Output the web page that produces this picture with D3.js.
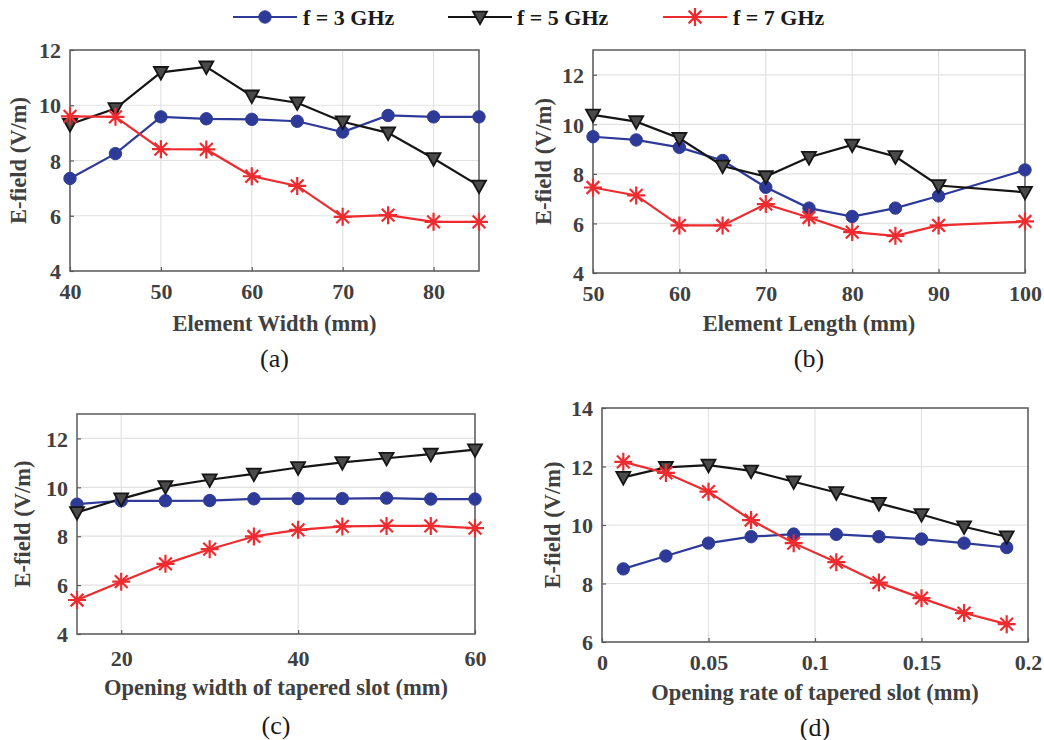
<!DOCTYPE html>
<html><head><meta charset="utf-8">
<script src="https://cdn.jsdelivr.net/npm/d3@7"></script>
<style>
body{margin:0;background:#fff;}
svg{display:block;}
</style></head>
<body><svg id="chart" width="1044" height="740"></svg>
<script>
// ---------- DATA ----------
const seriesNames = ["f = 3 GHz", "f = 5 GHz", "f = 7 GHz"];

// (a) Element Width
const widthX  = [40, 45, 50, 55, 60, 65, 70, 75, 80, 85];
const widthF3 = [7.35, 8.25, 9.58, 9.51, 9.49, 9.42, 9.03, 9.63, 9.58, 9.58];
const widthF5 = [9.31, 9.88, 11.19, 11.39, 10.34, 10.09, 9.40, 9.00, 8.07, 7.08];
const widthF7 = [9.60, 9.58, 8.41, 8.40, 7.43, 7.08, 5.96, 6.02, 5.78, 5.78];

// (b) Element Length
const lengthX  = [50, 55, 60, 65, 70, 75, 80, 85, 90, 100];
const lengthF3 = [9.50, 9.37, 9.07, 8.54, 7.46, 6.62, 6.28, 6.62, 7.11, 8.16];
const lengthF5 = [10.38, 10.11, 9.44, 8.32, 7.89, 8.67, 9.17, 8.70, 7.53, 7.26];
const lengthF7 = [7.45, 7.13, 5.92, 5.92, 6.78, 6.24, 5.65, 5.50, 5.92, 6.08];

// (c) Opening width of tapered slot
const openWX  = [15, 20, 25, 30, 35, 40, 45, 50, 55, 60];
const openWF3 = [9.31, 9.45, 9.45, 9.46, 9.53, 9.54, 9.54, 9.56, 9.52, 9.52];
const openWF5 = [8.97, 9.53, 10.03, 10.31, 10.55, 10.81, 11.02, 11.19, 11.36, 11.54];
const openWF7 = [5.39, 6.14, 6.87, 7.47, 7.99, 8.26, 8.40, 8.42, 8.42, 8.33];

// (d) Opening rate of tapered slot
const rateX  = [0.01, 0.03, 0.05, 0.07, 0.09, 0.11, 0.13, 0.15, 0.17, 0.19];
const rateF3 = [8.50, 8.94, 9.38, 9.60, 9.69, 9.68, 9.60, 9.52, 9.38, 9.23];
const rateF5 = [11.63, 11.97, 12.05, 11.85, 11.48, 11.11, 10.74, 10.36, 9.94, 9.60];
const rateF7 = [12.16, 11.78, 11.14, 10.17, 9.38, 8.73, 8.03, 7.50, 6.99, 6.61];

// ticks
const ticksA_x = [40, 50, 60, 70, 80];
const ticksB_x = [50, 60, 70, 80, 90, 100];
const ticksC_x = [20, 40, 60];
const ticksD_x = [0, 0.05, 0.1, 0.15, 0.2];
const ticksY_4_12 = [4, 6, 8, 10, 12];
const ticksY_6_14 = [6, 8, 10, 12, 14];

// ---------- STYLE ----------
const colors = ["#2e3a98", "#151515", "#ee2b2f"];
const textColor = "#404040";
const axisColor = "#5a5a5a";
const gridColor = "#e2e2e2";
const serif = "'Liberation Serif','Times New Roman',serif";

const svg = d3.select("#chart");

function marker(g, type, x, y, color) {
  if (type === 0) {
    g.append("circle").attr("cx", x).attr("cy", y).attr("r", 6.2)
      .attr("fill", color).attr("stroke", color).attr("stroke-width", 1);
  } else if (type === 1) {
    const w = 7, h = 6.3;
    g.append("path")
      .attr("d", `M${x - w},${y - h * 0.85} L${x + w},${y - h * 0.85} L${x},${y + h * 1.15} Z`)
      .attr("fill", "#4a4a4a").attr("stroke", color).attr("stroke-width", 1.8)
      .attr("stroke-linejoin", "miter");
  } else {
    const r = 9;
    const d = [];
    for (let k = 0; k < 4; k++) {
      const a = k * Math.PI / 4;
      const dx = r * Math.cos(a), dy = r * Math.sin(a);
      d.push(`M${x - dx},${y - dy} L${x + dx},${y + dy}`);
    }
    g.append("path").attr("d", d.join(" ")).attr("stroke", color)
      .attr("stroke-width", 2.2).attr("fill", "none");
  }
}

function panel(cfg) {
  const {left, right, top, bottom, xDomain, yDomain, xTicks, yTicks, xFmt,
         xs, ys, xLabel, tag, yLabelX, xTickY, xLabelY, tagY} = cfg;
  const x = d3.scaleLinear().domain(xDomain).range([left, right]);
  const y = d3.scaleLinear().domain(yDomain).range([bottom, top]);
  const g = svg.append("g");

  // grid
  g.append("g").selectAll("line").data(xTicks).join("line")
    .attr("x1", d => x(d)).attr("x2", d => x(d)).attr("y1", top).attr("y2", bottom)
    .attr("stroke", gridColor).attr("stroke-width", 1.2);
  g.append("g").selectAll("line").data(yTicks).join("line")
    .attr("x1", left).attr("x2", right).attr("y1", d => y(d)).attr("y2", d => y(d))
    .attr("stroke", gridColor).attr("stroke-width", 1.2);

  // axes via d3 (inward ticks)
  const xAxis = d3.axisBottom(x).tickValues(xTicks).tickSize(-4).tickPadding(10).tickFormat(xFmt || d3.format("d"));
  const yAxis = d3.axisLeft(y).tickValues(yTicks).tickSize(-4).tickPadding(9).tickFormat(d3.format("d"));
  const gx = g.append("g").attr("transform", `translate(0,${bottom})`).call(xAxis);
  const gy = g.append("g").attr("transform", `translate(${left},0)`).call(yAxis);
  [gx, gy].forEach(a => {
    a.select(".domain").remove();
    a.selectAll(".tick line").attr("stroke", axisColor).attr("stroke-width", 1.2);
    a.selectAll(".tick text").attr("fill", textColor).attr("font-family", serif)
      .attr("font-weight", "bold").attr("font-size", 22);
  });
  gx.selectAll(".tick text").attr("dy", null).attr("y", null)
    .attr("transform", `translate(0,${xTickY - bottom})`).attr("dominant-baseline", "central");
  gy.selectAll(".tick text").attr("dy", "0.35em");

  // box
  g.append("rect").attr("x", left).attr("y", top).attr("width", right - left).attr("height", bottom - top)
    .attr("fill", "none").attr("stroke", axisColor).attr("stroke-width", 1.5);

  // series
  const line = d3.line().x(d => x(d[0])).y(d => y(d[1]));
  ys.forEach((vals, i) => {
    const pts = xs.map((v, j) => [v, vals[j]]);
    g.append("path").datum(pts).attr("d", line).attr("fill", "none")
      .attr("stroke", colors[i]).attr("stroke-width", 2.2);
  });
  ys.forEach((vals, i) => {
    xs.forEach((v, j) => marker(g, i, x(v), y(vals[j]), colors[i]));
  });

  // labels
  g.append("text").attr("x", (left + right) / 2).attr("y", xLabelY)
    .attr("text-anchor", "middle").attr("dominant-baseline", "central")
    .attr("font-family", serif).attr("font-weight", "bold").attr("font-size", 22.5)
    .attr("fill", textColor).text(xLabel);
  g.append("text").attr("transform", `translate(${yLabelX},${(top + bottom) / 2}) rotate(-90)`)
    .attr("text-anchor", "middle").attr("dominant-baseline", "central")
    .attr("font-family", serif).attr("font-weight", "bold").attr("font-size", 22.5)
    .attr("fill", textColor).text("E-field (V/m)");
  g.append("text").attr("x", (left + right) / 2).attr("y", tagY)
    .attr("text-anchor", "middle").attr("dominant-baseline", "central")
    .attr("font-family", serif).attr("font-size", 26)
    .attr("fill", "#1a1a1a").text(tag);
}

panel({left: 70, right: 479, top: 50, bottom: 271, xDomain: [40, 85], yDomain: [4, 12],
  xTicks: ticksA_x, yTicks: ticksY_4_12, xs: widthX, ys: [widthF3, widthF5, widthF7],
  xLabel: "Element Width (mm)", tag: "(a)", yLabelX: 18, xTickY: 291, xLabelY: 323, tagY: 358});

panel({left: 593, right: 1025, top: 50, bottom: 273, xDomain: [50, 100], yDomain: [4, 13],
  xTicks: ticksB_x, yTicks: ticksY_4_12, xs: lengthX, ys: [lengthF3, lengthF5, lengthF7],
  xLabel: "Element Length (mm)", tag: "(b)", yLabelX: 543, xTickY: 293, xLabelY: 323, tagY: 358});

panel({left: 77, right: 475, top: 414, bottom: 634, xDomain: [15, 60], yDomain: [4, 13],
  xTicks: ticksC_x, yTicks: ticksY_4_12, xs: openWX, ys: [openWF3, openWF5, openWF7],
  xLabel: "Opening width of tapered slot (mm)", tag: "(c)", yLabelX: 22, xTickY: 658, xLabelY: 687, tagY: 725});

panel({left: 602, right: 1028, top: 408, bottom: 642, xDomain: [0, 0.2], yDomain: [6, 14],
  xTicks: ticksD_x, yTicks: ticksY_6_14, xFmt: d => d3.format("")(d), xs: rateX, ys: [rateF3, rateF5, rateF7],
  xLabel: "Opening rate of tapered slot (mm)", tag: "(d)", yLabelX: 552, xTickY: 662, xLabelY: 692, tagY: 727});

// legend
const legendItems = [
  {lx: 233, tx: 303},
  {lx: 448, tx: 517},
  {lx: 663, tx: 733}
];
const lg = svg.append("g");
seriesNames.forEach((name, i) => {
  const it = legendItems[i], yy = 17;
  lg.append("line").attr("x1", it.lx).attr("x2", it.lx + 64).attr("y1", yy).attr("y2", yy)
    .attr("stroke", colors[i]).attr("stroke-width", 2.2);
  marker(lg, i, it.lx + 32, yy, colors[i]);
  lg.append("text").attr("x", it.tx).attr("y", yy).attr("dominant-baseline", "central")
    .attr("font-family", serif).attr("font-weight", "bold").attr("font-size", 22)
    .attr("fill", "#1a1a1a").text(name);
});
</script>
</body></html>
